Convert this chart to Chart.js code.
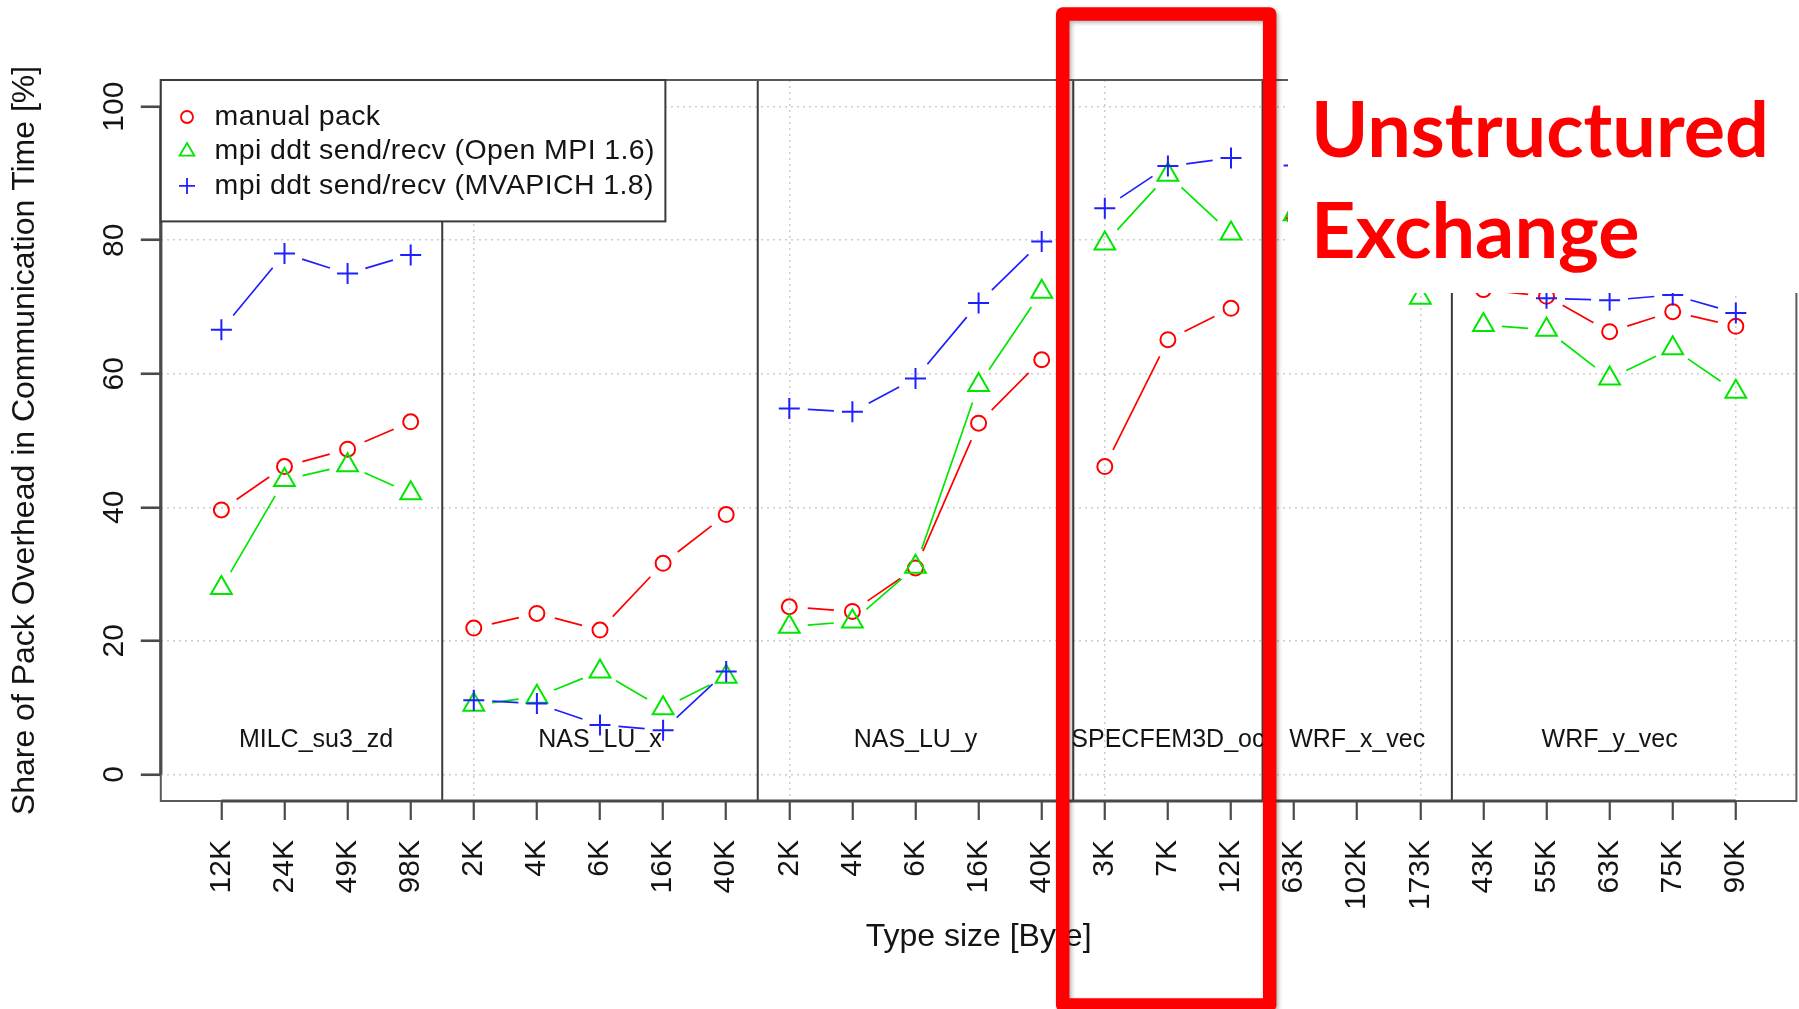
<!DOCTYPE html>
<html>
<head>
<meta charset="utf-8">
<title>Share of Pack Overhead in Communication Time</title>
<script src="https://cdn.jsdelivr.net/npm/chart.js@4.4.1/dist/chart.umd.min.js"></script>
<style>
  html, body { margin: 0; padding: 0; background: #ffffff; }
  #wrap { position: relative; width: 1799px; height: 1009px; }
  canvas { display: block; }
</style>
</head>
<body>
<div id="wrap"><canvas id="chart" width="1799" height="1009"></canvas></div>
<script>
// ---- data -------------------------------------------------------------
// Type sizes, in plotting order, grouped by benchmark
const typeSizes = ["12K", "24K", "49K", "98K",
                   "2K", "4K", "6K", "16K", "40K",
                   "2K", "4K", "6K", "16K", "40K",
                   "3K", "7K", "12K",
                   "63K", "102K", "173K",
                   "43K", "55K", "63K", "75K", "90K"];
const benchmarks = ["MILC_su3_zd", "NAS_LU_x", "NAS_LU_y", "SPECFEM3D_oc", "WRF_x_vec", "WRF_y_vec"];
const benchmarkSizes = [4, 5, 5, 3, 3, 5];
const yTicks = [0, 20, 40, 60, 80, 100];

// Share of pack overhead in communication time [%]
const manualPack = [39.6, 46.1, 48.7, 52.8,
                    21.9, 24.1, 21.6, 31.6, 38.9,
                    25.1, 24.4, 30.9, 52.6, 62.1,
                    46.1, 65.1, 69.8,
                    83.5, 81.0, 76.0,
                    72.6, 71.6, 66.3, 69.3, 67.1];
const ddtOpenMpi = [27.9, 44.1, 46.3, 42.1,
                    10.4, 11.6, 15.4, 9.9, 14.6,
                    22.1, 22.9, 31.1, 58.3, 72.3,
                    79.5, 89.8, 81.0,
                    83.9, 78.0, 71.4,
                    67.3, 66.6, 59.3, 63.8, 57.3];
const ddtMvapich = [66.6, 78.0, 75.0, 77.8,
                    11.1, 10.6, 7.4, 6.6, 15.4,
                    54.8, 54.3, 59.3, 70.6, 79.8,
                    84.8, 91.1, 92.3,
                    91.2, 93.0, 88.0,
                    74.5, 71.3, 71.0, 71.8, 69.1];
const seriesNames = ["manual pack",
                     "mpi ddt send/recv (Open MPI 1.6)",
                     "mpi ddt send/recv (MVAPICH 1.8)"];

// ---- helpers ------------------------------------------------------------
const FONT = '"Liberation Sans", Arial, Helvetica, sans-serif';
const TEXT = '#141414';
const GAP = 18.5;          // gap left around each symbol on connecting lines

function groupRanges() {
  const out = [];
  let s = 0;
  benchmarkSizes.forEach(n => { out.push([s, s + n]); s += n; });
  return out;
}

function toPoints(values) {
  return values.map((v, i) => ({ x: i, y: v }));
}

function drawSymbol(ctx, style, x, y, r, color, width) {
  ctx.save();
  ctx.strokeStyle = color;
  ctx.lineWidth = width;
  ctx.beginPath();
  if (style === 'circle') {
    ctx.arc(x, y, r, 0, Math.PI * 2);
  } else if (style === 'triangle') {
    const a = Math.PI * 2 / 3;
    for (let k = 0; k < 3; k++) {
      const px = x + Math.sin(k * a) * r, py = y - Math.cos(k * a) * r;
      if (k === 0) ctx.moveTo(px, py); else ctx.lineTo(px, py);
    }
    ctx.closePath();
  } else {
    ctx.moveTo(x - r, y); ctx.lineTo(x + r, y);
    ctx.moveTo(x, y - r); ctx.lineTo(x, y + r);
  }
  ctx.stroke();
  ctx.restore();
}

// Lines between consecutive points of a benchmark, broken around the symbols
const gappedLines = {
  id: 'gappedLines',
  beforeDatasetsDraw(chart) {
    const ctx = chart.ctx;
    const ranges = groupRanges();
    chart.data.datasets.forEach((ds, di) => {
      const meta = chart.getDatasetMeta(di);
      ctx.save();
      ctx.strokeStyle = ds.borderColor;
      ctx.lineWidth = 1.7;
      ctx.beginPath();
      ranges.forEach(([s, e]) => {
        for (let i = s; i < e - 1; i++) {
          const p = meta.data[i], q = meta.data[i + 1];
          const dx = q.x - p.x, dy = q.y - p.y, len = Math.hypot(dx, dy);
          if (len <= 2 * GAP) continue;
          const ux = dx / len, uy = dy / len;
          ctx.moveTo(p.x + ux * GAP, p.y + uy * GAP);
          ctx.lineTo(q.x - ux * GAP, q.y - uy * GAP);
        }
      });
      ctx.stroke();
      ctx.restore();
    });
  }
};

// Plot frame, benchmark separators and benchmark names
const benchmarkFrame = {
  id: 'benchmarkFrame',
  beforeDatasetsDraw(chart) {
    const { ctx, chartArea: a } = chart;
    const xs = chart.scales.x, ys = chart.scales.y;
    ctx.save();
    // separators between benchmarks
    ctx.strokeStyle = '#3a3a3a';
    ctx.lineWidth = 2;
    let acc = 0;
    benchmarkSizes.slice(0, -1).forEach(n => {
      acc += n;
      const x = xs.getPixelForValue(acc - 0.5);
      ctx.beginPath(); ctx.moveTo(x, a.top); ctx.lineTo(x, a.bottom); ctx.stroke();
    });
    // box
    ctx.strokeStyle = '#5a5a5a';
    ctx.lineWidth = 2;
    ctx.strokeRect(a.left, a.top, a.right - a.left, a.bottom - a.top);
    // axis lines spanning the tick range
    ctx.strokeStyle = '#4a4a4a';
    ctx.lineWidth = 3.2;
    ctx.beginPath();
    ctx.moveTo(xs.getPixelForValue(0), a.bottom);
    ctx.lineTo(xs.getPixelForValue(typeSizes.length - 1), a.bottom);
    ctx.moveTo(a.left, ys.getPixelForValue(yTicks[0]));
    ctx.lineTo(a.left, ys.getPixelForValue(yTicks[yTicks.length - 1]));
    ctx.stroke();
    // benchmark names
    ctx.fillStyle = TEXT;
    ctx.font = '25px ' + FONT;
    ctx.textAlign = 'center';
    ctx.textBaseline = 'middle';
    groupRanges().forEach(([s, e], gi) => {
      ctx.fillText(benchmarks[gi], xs.getPixelForValue((s + e - 1) / 2), ys.getPixelForValue(5.15));
    });
    ctx.restore();
  }
};

// Boxed legend in the upper-left corner of the plot
const boxedLegend = {
  id: 'boxedLegend',
  afterDatasetsDraw(chart) {
    const { ctx, chartArea: a } = chart;
    const w = 504.6, h = 141.4;
    const sizes = { circle: 6, triangle: 8.5, cross: 8 };
    ctx.save();
    ctx.fillStyle = '#ffffff';
    ctx.fillRect(a.left, a.top, w, h);
    ctx.strokeStyle = '#3a3a3a';
    ctx.lineWidth = 2;
    ctx.strokeRect(a.left, a.top, w, h);
    ctx.font = '28.5px ' + FONT;
    ctx.letterSpacing = '0.4px';
    ctx.textAlign = 'left';
    ctx.textBaseline = 'middle';
    chart.data.datasets.forEach((ds, i) => {
      const y = a.top + 37 + i * 34.45;
      drawSymbol(ctx, ds.pointStyle, a.left + 26.2, y, sizes[ds.pointStyle], ds.borderColor, 1.8);
      ctx.fillStyle = TEXT;
      ctx.fillText(ds.label, a.left + 53.7, y);
    });
    ctx.restore();
  }
};

// Highlight of the unstructured-exchange benchmark with its callout text
const calloutOverlay = {
  id: 'calloutOverlay',
  afterDraw(chart) {
    const ctx = chart.ctx;
    ctx.save();
    ctx.fillStyle = '#ffffff';
    ctx.fillRect(1288, 0, 1799 - 1288, 293);
    ctx.fillStyle = '#ff0000';
    ctx.textAlign = 'left';
    ctx.textBaseline = 'alphabetic';
    ctx.font = 'bold 100px Lato, "Open Sans", sans-serif';
    const size = 100 * 458 / ctx.measureText('Unstructured').width;
    ctx.font = 'bold ' + size.toFixed(2) + 'px Lato, "Open Sans", sans-serif';
    ctx.fillText('Unstructured', 1311, 157);
    ctx.fillText('Exchange', 1311, 258);
    ctx.shadowColor = 'rgba(0,0,0,0.30)';
    ctx.shadowBlur = 4;
    ctx.shadowOffsetX = 2;
    ctx.shadowOffsetY = 2;
    ctx.strokeStyle = '#ff0000';
    ctx.lineWidth = 13.5;
    ctx.lineJoin = 'round';
    ctx.strokeRect(1062.7, 14, 207, 991);
    ctx.restore();
  }
};

// ---- chart --------------------------------------------------------------
const seriesStyle = [
  { values: manualPack, color: '#ff0000', style: 'circle',   radius: 7.5, order: 3 },
  { values: ddtOpenMpi, color: '#00e600', style: 'triangle', radius: 12,  order: 2 },
  { values: ddtMvapich, color: '#1f1fff', style: 'cross',    radius: 10.5, order: 1 }
];

const gridGrey = '#cdcdcd';

new Chart(document.getElementById('chart'), {
  type: 'line',
  data: {
    datasets: seriesStyle.map((s, i) => ({
      label: seriesNames[i],
      data: toPoints(s.values),
      showLine: false,
      borderColor: s.color,
      backgroundColor: 'transparent',
      pointStyle: s.style,
      pointRadius: s.radius,
      pointBorderWidth: 2,
      pointBorderColor: s.color,
      pointBackgroundColor: 'transparent',
      order: s.order
    }))
  },
  options: {
    responsive: false,
    animation: false,
    events: [],
    layout: { autoPadding: false, padding: { top: 80, right: 2.6, left: 0, bottom: 0 } },
    plugins: { legend: { display: false }, tooltip: { enabled: false } },
    scales: {
      x: {
        type: 'linear',
        min: -0.96,
        max: typeSizes.length - 1 + 0.96,
        afterBuildTicks: s => { s.ticks = typeSizes.map((_, i) => ({ value: i })); },
        afterFit: s => { s.height = 208; s.paddingLeft = 0; s.paddingRight = 0; },
        ticks: {
          callback: v => typeSizes[v],
          autoSkip: false,
          minRotation: 90,
          maxRotation: 90,
          padding: 20,
          color: TEXT,
          font: { family: FONT, size: 30 }
        },
        grid: {
          color: c => (c.index % 5 === 4 ? gridGrey : 'rgba(0,0,0,0)'),
          lineWidth: 1.5,
          tickColor: '#4a4a4a',
          tickLength: 19,
          tickWidth: 2.2
        },
        border: { display: false, dash: [2, 4] },
        title: {
          display: true,
          text: 'Type size [Byte]',
          color: TEXT,
          font: { family: FONT, size: 32 },
          padding: { top: 0, bottom: 52.8 }
        }
      },
      y: {
        type: 'linear',
        min: -4,
        max: 104,
        afterBuildTicks: s => { s.ticks = yTicks.map(v => ({ value: v })); },
        afterFit: s => { s.width = 160.8; s.paddingTop = 0; s.paddingBottom = 0; },
        ticks: {
          minRotation: 90,
          maxRotation: 90,
          crossAlign: 'center',
          padding: 1,
          color: TEXT,
          font: { family: FONT, size: 30 }
        },
        grid: {
          color: gridGrey,
          lineWidth: 1.5,
          tickColor: '#4a4a4a',
          tickLength: 20,
          tickWidth: 2.6
        },
        border: { display: false, dash: [2, 4] },
        title: {
          display: true,
          text: 'Share of Pack Overhead in Communication Time [%]',
          color: TEXT,
          font: { family: FONT, size: 32 },
          padding: { top: 5.8, bottom: 0 }
        }
      }
    }
  },
  plugins: [benchmarkFrame, gappedLines, boxedLegend, calloutOverlay]
});
</script>
</body>
</html>
